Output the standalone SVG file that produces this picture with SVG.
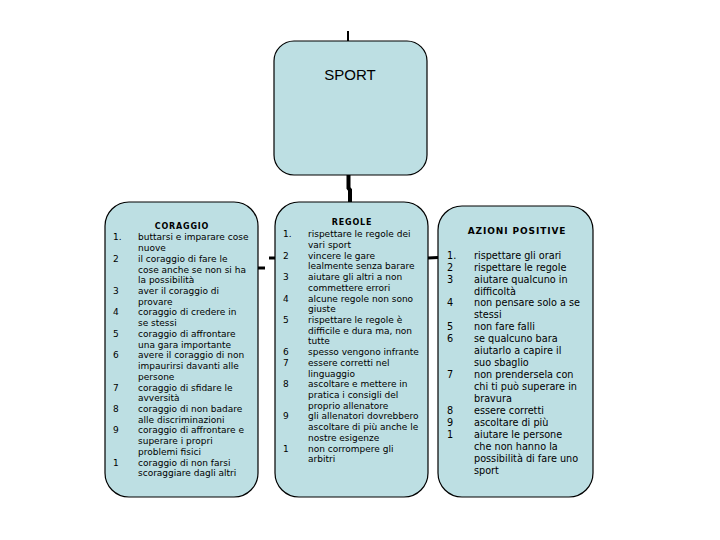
<svg xmlns="http://www.w3.org/2000/svg" width="720" height="540" viewBox="0 0 720 540">
<style>
.box{fill:#BDDFE3;stroke:#000;stroke-width:1.2}
.t{font-family:"DejaVu Sans",Verdana,sans-serif;font-size:9px;fill:#000}
.tr{font-family:"DejaVu Sans",Verdana,sans-serif;font-size:9.7px;fill:#000}
.h{font-family:"DejaVu Sans",Verdana,sans-serif;font-weight:bold;font-size:8px;letter-spacing:0.8px;fill:#000;text-anchor:middle}
.ttl{font-family:"Liberation Sans",Arial,sans-serif;font-size:15px;fill:#000;text-anchor:middle}
.c{stroke:#000;fill:none}
</style>
<rect width="720" height="540" fill="#fff"/>
<g id="connectors">
<line class="c" x1="348" y1="31" x2="348" y2="41" stroke-width="2"/>
<polyline class="c" points="348.5,175 348.5,188 350,190 350,202" stroke-width="4"/>
<line class="c" x1="258" y1="268" x2="265" y2="268" stroke-width="3"/>
<line class="c" x1="269" y1="258" x2="275" y2="258" stroke-width="3"/>
<line class="c" x1="428" y1="258" x2="438" y2="257.5" stroke-width="3"/>
</g>
<g id="sport">
<rect class="box" x="274" y="41" width="153" height="134" rx="20"/>
<text class="ttl" x="350" y="80">SPORT</text>
</g>
<g id="coraggio">
<rect class="box" x="105" y="202" width="153" height="295" rx="24"/>
<text class="h" x="182" y="229">CORAGGIO</text>
<text class="t">
<tspan x="113" y="240.3">1.</tspan><tspan x="138" y="240.3">buttarsi e imparare cose</tspan>
<tspan x="138" y="251">nuove</tspan>
<tspan x="113" y="261.8">2</tspan><tspan x="138" y="261.8">il coraggio di fare le</tspan>
<tspan x="138" y="272.5">cose anche se non si ha</tspan>
<tspan x="138" y="283.2">la possibilità</tspan>
<tspan x="113" y="294">3</tspan><tspan x="138" y="294">aver il coraggio di</tspan>
<tspan x="138" y="304.7">provare</tspan>
<tspan x="113" y="315.4">4</tspan><tspan x="138" y="315.4">coraggio di credere in</tspan>
<tspan x="138" y="326.1">se stessi</tspan>
<tspan x="113" y="336.9">5</tspan><tspan x="138" y="336.9">coraggio di affrontare</tspan>
<tspan x="138" y="347.6">una gara importante</tspan>
<tspan x="113" y="358.3">6</tspan><tspan x="138" y="358.3">avere il coraggio di non</tspan>
<tspan x="138" y="369.1">impaurirsi davanti alle</tspan>
<tspan x="138" y="379.8">persone</tspan>
<tspan x="113" y="390.5">7</tspan><tspan x="138" y="390.5">coraggio di sfidare le</tspan>
<tspan x="138" y="401.3">avversità</tspan>
<tspan x="113" y="412">8</tspan><tspan x="138" y="412">coraggio di non badare</tspan>
<tspan x="138" y="422.7">alle discriminazioni</tspan>
<tspan x="113" y="433.4">9</tspan><tspan x="138" y="433.4">coraggio di affrontare e</tspan>
<tspan x="138" y="444.2">superare i propri</tspan>
<tspan x="138" y="454.9">problemi fisici</tspan>
<tspan x="113" y="465.6">1</tspan><tspan x="138" y="465.6">coraggio di non farsi</tspan>
<tspan x="138" y="476.4">scoraggiare dagli altri</tspan>
</text>
</g>
<g id="regole">
<rect class="box" x="275" y="202" width="153" height="295" rx="24"/>
<text class="h" x="352" y="225">REGOLE</text>
<text class="t">
<tspan x="283" y="237.3">1.</tspan><tspan x="308" y="237.3">rispettare le regole dei</tspan>
<tspan x="308" y="248">vari sport</tspan>
<tspan x="283" y="258.7">2</tspan><tspan x="308" y="258.7">vincere le gare</tspan>
<tspan x="308" y="269.4">lealmente senza barare</tspan>
<tspan x="283" y="280.1">3</tspan><tspan x="308" y="280.1">aiutare gli altri a non</tspan>
<tspan x="308" y="290.9">commettere errori</tspan>
<tspan x="283" y="301.6">4</tspan><tspan x="308" y="301.6">alcune regole non sono</tspan>
<tspan x="308" y="312.3">giuste</tspan>
<tspan x="283" y="323">5</tspan><tspan x="308" y="323">rispettare le regole è</tspan>
<tspan x="308" y="333.7">difficile e dura ma, non</tspan>
<tspan x="308" y="344.4">tutte</tspan>
<tspan x="283" y="355.1">6</tspan><tspan x="308" y="355.1">spesso vengono infrante</tspan>
<tspan x="283" y="365.8">7</tspan><tspan x="308" y="365.8">essere corretti nel</tspan>
<tspan x="308" y="376.5">linguaggio</tspan>
<tspan x="283" y="387.2">8</tspan><tspan x="308" y="387.2">ascoltare e mettere in</tspan>
<tspan x="308" y="397.9">pratica i consigli del</tspan>
<tspan x="308" y="408.7">proprio allenatore</tspan>
<tspan x="283" y="419.4">9</tspan><tspan x="308" y="419.4">gli allenatori dovrebbero</tspan>
<tspan x="308" y="430.1">ascoltare di più anche le</tspan>
<tspan x="308" y="440.8">nostre esigenze</tspan>
<tspan x="283" y="451.5">1</tspan><tspan x="308" y="451.5">non corrompere gli</tspan>
<tspan x="308" y="462.2">arbitri</tspan>
</text>
</g>
<g id="azioni">
<rect class="box" x="438" y="206" width="155" height="291" rx="24"/>
<text class="h" x="517" y="234" style="font-size:9px;letter-spacing:0.9px">AZIONI POSITIVE</text>
<text class="tr">
<tspan x="447" y="258.6">1.</tspan><tspan x="474" y="258.6">rispettare gli orari</tspan>
<tspan x="447" y="270.5">2</tspan><tspan x="474" y="270.5">rispettare le regole</tspan>
<tspan x="447" y="282.5">3</tspan><tspan x="474" y="282.5">aiutare qualcuno in</tspan>
<tspan x="474" y="294.5">difficoltà</tspan>
<tspan x="447" y="306.4">4</tspan><tspan x="474" y="306.4">non pensare solo a se</tspan>
<tspan x="474" y="318.4">stessi</tspan>
<tspan x="447" y="330.3">5</tspan><tspan x="474" y="330.3">non fare falli</tspan>
<tspan x="447" y="342.3">6</tspan><tspan x="474" y="342.3">se qualcuno bara</tspan>
<tspan x="474" y="354.2">aiutarlo a capire il</tspan>
<tspan x="474" y="366.2">suo sbaglio</tspan>
<tspan x="447" y="378.1">7</tspan><tspan x="474" y="378.1">non prendersela con</tspan>
<tspan x="474" y="390.1">chi ti può superare in</tspan>
<tspan x="474" y="402">bravura</tspan>
<tspan x="447" y="414">8</tspan><tspan x="474" y="414">essere corretti</tspan>
<tspan x="447" y="425.9">9</tspan><tspan x="474" y="425.9">ascoltare di più</tspan>
<tspan x="447" y="437.9">1</tspan><tspan x="474" y="437.9">aiutare le persone</tspan>
<tspan x="474" y="449.8">che non hanno la</tspan>
<tspan x="474" y="461.8">possibilità di fare uno</tspan>
<tspan x="474" y="473.7">sport</tspan>
</text>
</g>
</svg>
